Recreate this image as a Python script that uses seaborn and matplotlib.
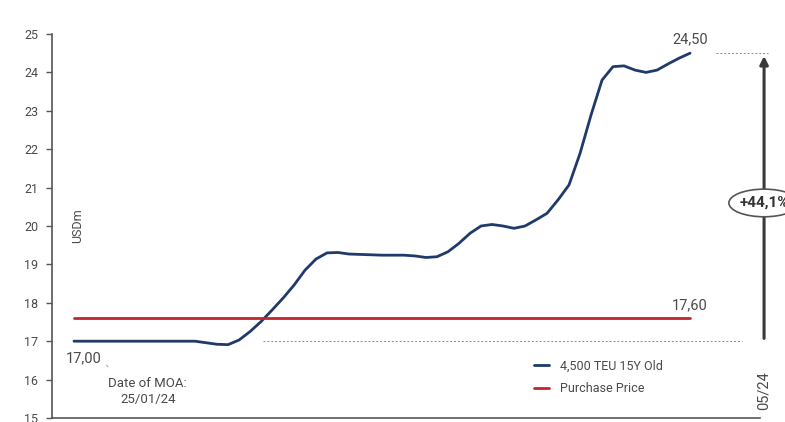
import numpy as np
import pandas as pd
import matplotlib
matplotlib.use("Agg")
import matplotlib.pyplot as plt
import seaborn as sns
from matplotlib.patches import Ellipse

# ---- data ----
period = list(range(57))
vessel_value = [17.00, 17.00, 17.00, 17.00, 17.00, 17.00, 17.00, 17.00, 17.00, 17.00,
                17.00, 17.00, 16.96, 16.92, 16.91, 17.03, 17.25, 17.51, 17.81, 18.12,
                18.46, 18.85, 19.14, 19.30, 19.31, 19.27, 19.26, 19.25, 19.24, 19.24,
                19.24, 19.22, 19.18, 19.20, 19.33, 19.55, 19.81, 20.00, 20.04, 20.00,
                19.94, 20.00, 20.16, 20.33, 20.68, 21.07, 21.89, 22.89, 23.80, 24.15,
                24.17, 24.06, 24.00, 24.06, 24.22, 24.37, 24.50]
purchase_price = [17.60] * len(period)
series_names = ["4,500 TEU 15Y Old", "Purchase Price"]
y_ticks = [15, 16, 17, 18, 19, 20, 21, 22, 23, 24, 25]
start_label = "17,00"
end_label = "24,50"
price_label = "17,60"
change_label = "+44,1%"
moa_label = "Date of MOA:\n25/01/24"
end_date_label = "05/24"

df = pd.DataFrame({"period": period * 2,
                   "value": vessel_value + purchase_price,
                   "series": [series_names[0]] * len(period) + [series_names[1]] * len(period)})

sns.set_theme(style="white")
plt.rcParams['font.family'] = ['Roboto', 'DejaVu Sans']
txt = "#4a4a4a"

fig = plt.figure(figsize=(7.85, 4.22), dpi=100)
ax = fig.add_axes([52/785, 4/422, (760-52)/785, (418-34)/422])

sns.lineplot(data=df, x="period", y="value", hue="series",
             palette=["#1f3a6b", "#c0262d"], linewidth=2, ax=ax, legend=True)

ax.set_xlim(-2.0, 62.36)
ax.set_ylim(15, 25)
ax.set_yticks(y_ticks)
ax.set_yticklabels([str(t) for t in y_ticks], color=txt, fontsize=9)
ax.set_xticks([])
ax.set_xlabel("")
ax.set_ylabel("")
for s in ["top", "right"]:
    ax.spines[s].set_visible(False)
for s in ["left", "bottom"]:
    ax.spines[s].set_color("#555555")
    ax.spines[s].set_linewidth(1.2)
ax.tick_params(axis="y", left=True, length=4, width=1, color="#555555", pad=6)

# legend
leg = ax.legend(loc="lower left", bbox_to_anchor=(0.665, 0.03), frameon=False,
                fontsize=9, handlelength=1.2, labelspacing=0.75, handletextpad=0.9)
for t in leg.get_texts():
    t.set_color(txt)

# annotations
ax.text(0.3, 20.0, "USDm", rotation=90, ha="center", va="center", color=txt, fontsize=9)
ax.text(0.9, 16.55, start_label, ha="center", va="center", color=txt, fontsize=10.5)
ax.plot([2.95, 3.1], [16.38, 16.33], color="#999999", lw=0.6)
ax.text(6.7, 15.68, moa_label, ha="center", va="center", color=txt, fontsize=9.5, linespacing=1.3)
ax.text(period[-1], 24.85, end_label, ha="center", va="center", color=txt, fontsize=10.5)
ax.text(period[-1], 17.93, price_label, ha="center", va="center", color=txt, fontsize=10.5)

# dotted reference lines
ax.plot([17.2, 60.7], [17.0, 17.0], color="#888888", lw=0.7, ls=(0, (2, 2)), clip_on=False)
ax.plot([58.4, 63.1], [24.5, 24.5], color="#888888", lw=0.7, ls=(0, (2, 2)), clip_on=False)

# arrow
ax.annotate("", xy=(62.73, 24.5), xytext=(62.73, 17.0),
            arrowprops=dict(arrowstyle="-|>", color="#3a3a3a", lw=2.2, mutation_scale=12),
            annotation_clip=False)
ell = Ellipse((62.73, 20.6), width=6.4, height=0.72, facecolor="white",
              edgecolor="#555555", lw=1.2, clip_on=False, zorder=5)
ax.add_patch(ell)
ax.text(62.73, 20.6, change_label, ha="center", va="center", color="#333333",
        fontsize=11, fontweight="bold", zorder=6, clip_on=False)
ax.text(62.73, 15.72, end_date_label, rotation=90, ha="center", va="center",
        color=txt, fontsize=10.5, clip_on=False)

fig.savefig("out.png", dpi=100)
